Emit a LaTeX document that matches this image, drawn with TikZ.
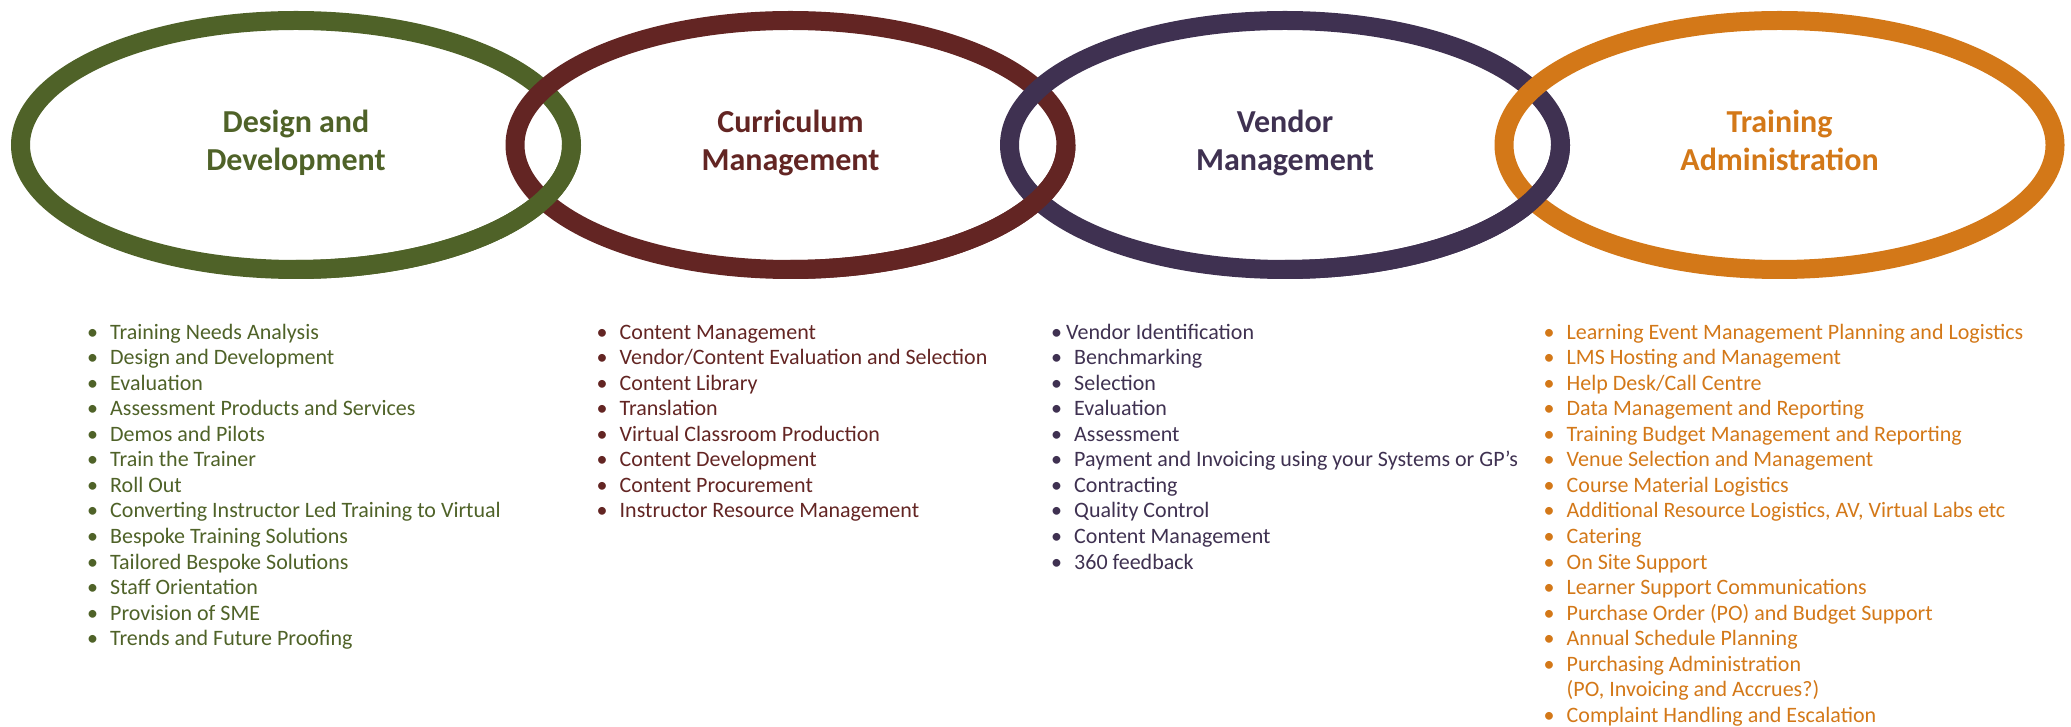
\documentclass[tikz,border=0pt]{standalone}
\usepackage{fontspec}
\setmainfont{Carlito}
\definecolor{cgreen}{HTML}{4F6228}
\definecolor{cmaroon}{HTML}{632523}
\definecolor{cpurple}{HTML}{3F3151}
\definecolor{corange}{HTML}{D37818}
\newcommand{\bul}[1][23pt]{\makebox[#1][l]{•}}
\begin{document}
\begin{tikzpicture}[x=1pt,y=1pt,
  ring/.style={line width=19pt},
  ttl/.style={align=center,inner sep=0pt,font=\fontsize{32}{38}\selectfont\bfseries},
  litem/.style={anchor=base west,inner sep=0pt,font=\fontsize{22}{25.5}\selectfont}]
\useasboundingbox (0,0) rectangle (2071,726);
\def\rx{275.5}\def\ry{124.5}\def\cy{581}
% rings, right one on top at upper crossings
\draw[ring,cgreen]  (296,\cy)  ellipse [x radius=\rx, y radius=\ry];
\draw[ring,cmaroon] (790.5,\cy) ellipse [x radius=\rx, y radius=\ry];
\draw[ring,cpurple] (1285,\cy) ellipse [x radius=\rx, y radius=\ry];
\draw[ring,corange] (1779.5,\cy) ellipse [x radius=\rx, y radius=\ry];
% left one on top at lower crossings
\draw[ring,cgreen]  (296,\cy) ++(270:\rx pt and \ry pt) arc[start angle=270,end angle=360,x radius=\rx,y radius=\ry];
\draw[ring,cmaroon] (790.5,\cy) ++(270:\rx pt and \ry pt) arc[start angle=270,end angle=360,x radius=\rx,y radius=\ry];
\draw[ring,cpurple] (1285,\cy) ++(270:\rx pt and \ry pt) arc[start angle=270,end angle=360,x radius=\rx,y radius=\ry];
% titles
\node[ttl,text=cgreen]  (t1) at (296,582)  {\strut Design and\\\strut Development};
\node[ttl,text=cmaroon] (t2) at (790.5,582) {\strut Curriculum\\\strut Management};
\node[ttl,text=cpurple] (t3) at (1285,582) {\strut Vendor\\\strut Management};
\node[ttl,text=corange] (t4) at (1779.5,582) {\strut Training\\\strut Administration};
% lists
\def\yb{386.5}\def\ls{25.5}
\foreach \t [count=\i] in {Training Needs Analysis, Design and Development, Evaluation, Assessment Products and Services, Demos and Pilots, Train the Trainer, Roll Out, Converting Instructor Led Training to Virtual, Bespoke Training Solutions, Tailored Bespoke Solutions, Staff Orientation, Provision of SME, Trends and Future Proofing}
  \node[litem,text=cgreen] (g\i) at (87,{\yb-(\i-1)*\ls}) {\bul\t};
\foreach \t [count=\i] in {Content Management, Vendor/Content Evaluation and Selection, Content Library, Translation, Virtual Classroom Production, Content Development, Content Procurement, Instructor Resource Management}
  \node[litem,text=cmaroon] (m\i) at (596.5,{\yb-(\i-1)*\ls}) {\bul\t};
\node[litem,text=cpurple] (p1) at (1051,\yb) {\bul[15pt]Vendor Identification};
\foreach \t [count=\i from 2] in {Benchmarking, Selection, Evaluation, Assessment, Payment and Invoicing using your Systems or GP’s, Contracting, Quality Control, Content Management, 360 feedback}
  \node[litem,text=cpurple] (p\i) at (1051,{\yb-(\i-1)*\ls}) {\bul\t};
\foreach \t [count=\i] in {Learning Event Management Planning and Logistics, LMS Hosting and Management, Help Desk/Call Centre, Data Management and Reporting, Training Budget Management and Reporting, Venue Selection and Management, Course Material Logistics, {Additional Resource Logistics, AV, Virtual Labs etc}, Catering, On Site Support, Learner Support Communications, Purchase Order (PO) and Budget Support, Annual Schedule Planning, Purchasing Administration}
  \node[litem,text=corange] (o\i) at (1543.5,{\yb-(\i-1)*\ls}) {\bul\t};
\node[litem,text=corange] (o15) at (1543.5,{\yb-14*\ls}) {\hspace*{23pt}(PO, Invoicing and Accrues?)};
\node[litem,text=corange] (o16) at (1543.5,{\yb-15*\ls}) {\bul Complaint Handling and Escalation};
\end{tikzpicture}
\end{document}
